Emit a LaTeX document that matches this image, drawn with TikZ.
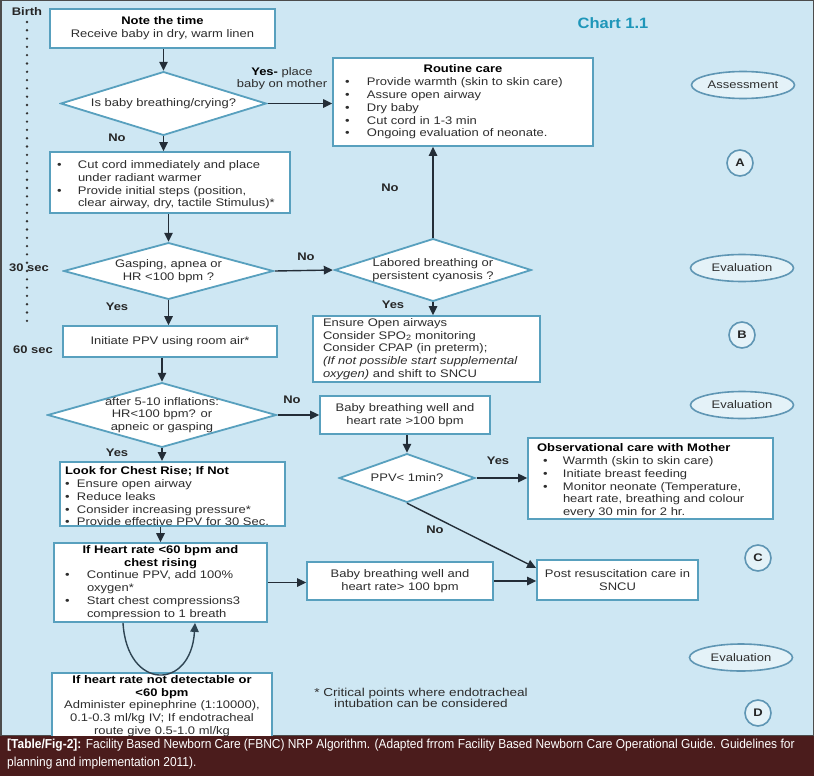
\documentclass[tikz,border=0pt]{standalone}
\usepackage{fontspec}
\setmainfont{Liberation Sans}[FakeStretch=1.18]
\newfontfamily\capfont{Liberation Sans}[FakeStretch=0.92]
\newfontfamily\chartfont{Liberation Sans}[FakeStretch=1.1]
\usetikzlibrary{shapes.geometric,arrows.meta,calc}
\definecolor{bg}{RGB}{206,231,243}
\definecolor{bord}{RGB}{88,160,190}
\definecolor{ellc}{RGB}{95,150,180}
\definecolor{arrc}{RGB}{35,45,55}
\definecolor{capbg}{RGB}{75,28,28}
\definecolor{charttxt}{RGB}{30,150,185}
\definecolor{txt}{RGB}{45,45,45}
\newcommand\bi[3]{\par\hangindent=#2\hangafter=1\noindent\makebox[#2][l]{\hspace{#1}\textbullet}#3}
\tikzset{
  box/.style={draw=bord, line width=1.8pt, fill=white, inner sep=0pt, text=txt},
  dia/.style={rectangle, draw=none, fill=bg, inner sep=0pt, align=center, text=txt,
    path picture={\draw[bord, line width=1.8pt, fill=white]
      ([yshift=-1pt]path picture bounding box.north) -- ([xshift=-2pt]path picture bounding box.east) --
      ([yshift=1pt]path picture bounding box.south) -- ([xshift=2pt]path picture bounding box.west) -- cycle;}},
  arr/.style={draw=arrc, line width=1.4pt, -{Triangle[length=9pt,width=8.5pt]}},
  lbl/.style={font=\fontsize{11}{12.8}\selectfont\bfseries, text=black!85, inner sep=0pt},
  ell/.style={ellipse, draw=ellc, line width=1.6pt, fill=white!45!bg, inner sep=0pt, minimum width=103pt, minimum height=27pt, text=txt},
  circ/.style={circle, draw=ellc, line width=1.6pt, fill=white!45!bg, inner sep=0pt, minimum size=26pt, font=\fontsize{11}{12}\selectfont\bfseries, text=black!85},
  side/.style={font=\fontsize{11}{12}\selectfont\bfseries, text=black!85, inner sep=0pt}
}
\begin{document}
\begin{tikzpicture}[x=1pt,y=-1pt, font=\fontsize{11}{12.8}\selectfont]
\useasboundingbox (0,0) rectangle (814,776);
\fill[bg] (0,0) rectangle (814,736);
\draw[black!70, line width=1.5pt] (0.75,0.75) rectangle (813.25,736);

% time axis
\draw[black!80, line width=2.6pt, line cap=round, dash pattern=on 0pt off 8.3pt] (27,22) -- (27,328);
\node[side] (birth) at (27,12) {Birth};
\node[side] (t30) at (29,268) {30 sec};
\node[side] (t60) at (33,350) {60 sec};

\node[font=\chartfont\fontsize{15}{17}\selectfont\bfseries, text=charttxt] (chart) at (613,23) {Chart 1.1};

% boxes
\node[box, text width=225pt, minimum height=39pt, align=center] (b1) at (162.5,28.5)
  {\textbf{\color{black}Note the time}\\Receive baby in dry, warm linen};
\node[dia, minimum width=209pt, minimum height=65pt] (d1) at (163.5,103.5) {Is baby breathing/crying?};
\node[box, text width=260pt, minimum height=88pt, align=left] (rc) at (463,102)
  {{\centering\textbf{\color{black}Routine care}\par}
   \bi{12pt}{34pt}{Provide warmth (skin to skin care)}
   \bi{12pt}{34pt}{Assure open airway}
   \bi{12pt}{34pt}{Dry baby}
   \bi{12pt}{34pt}{Cut cord in 1-3 min}
   \bi{12pt}{34pt}{Ongoing evaluation of neonate.}\par};
\node[box, text width=240pt, minimum height=61pt, align=left] (b2) at (170,182.5)
  {\bi{7pt}{28pt}{Cut cord immediately and place\newline under radiant warmer}
   \bi{7pt}{28pt}{Provide initial steps (position,\newline clear airway, dry, tactile Stimulus)*}\par};
\node[dia, minimum width=213pt, minimum height=58pt] (d2) at (168.5,271) {Gasping, apnea or\\HR <100 bpm ?};
\node[dia, minimum width=200pt, minimum height=64pt] (d3) at (433,270) {Labored breathing or\\persistent cyanosis ?};
\node[box, text width=227pt, minimum height=66pt, align=left] (b3) at (426.5,349)
  {\leftskip=10pt Ensure Open airways\\Consider SPO\textsubscript{2} monitoring\\Consider CPAP (in preterm);\\\textit{(If not possible start supplemental}\\\textit{oxygen)} and shift to SNCU\par};
\node[box, text width=214pt, minimum height=31pt, align=center] (ppv) at (170,341.5) {Initiate PPV using room air*};
\node[dia, minimum width=232pt, minimum height=66pt] (d4) at (162,415) {after 5-10 inflations:\\HR<100 bpm? or\\apneic or gasping};
\node[box, text width=170pt, minimum height=38pt, align=center] (b4) at (405,415) {Baby breathing well and\\heart rate >100 bpm};
\node[box, text width=225pt, minimum height=62pt, align=left] (b5) at (172.5,494)
  {\par\noindent\hspace{5pt}\textbf{\color{black}Look for Chest Rise; If Not}
   \bi{5pt}{17pt}{Ensure open airway}
   \bi{5pt}{17pt}{Reduce leaks}
   \bi{5pt}{17pt}{Consider increasing pressure*}
   \bi{5pt}{17pt}{Provide effective PPV for 30 Sec.}\par};
\node[box, text width=213pt, minimum height=79pt, align=left] (b6) at (160.5,582.5)
  {{\centering\textbf{\color{black}If Heart rate <60 bpm and\\chest rising}\par}
   \bi{11pt}{33pt}{Continue PPV, add 100\%\newline oxygen*}
   \bi{11pt}{33pt}{Start chest compressions3\newline compression to 1 breath}\par};
\node[box, text width=186pt, minimum height=38pt, align=center] (b7) at (400,581) {Baby breathing well and\\heart rate> 100 bpm};
\node[box, text width=161pt, minimum height=40pt, align=center] (post) at (617.5,580) {Post resuscitation care in\\SNCU};
\node[dia, minimum width=139pt, minimum height=50pt] (d5) at (407,478) {PPV< 1min?};
\node[box, text width=245pt, minimum height=81pt, align=left] (obs) at (650.5,478.5)
  {\par\noindent\hspace{9pt}\textbf{\color{black}Observational care with Mother}
   \bi{15pt}{35pt}{Warmth (skin to skin care)}
   \bi{15pt}{35pt}{Initiate breast feeding}
   \bi{15pt}{35pt}{Monitor neonate (Temperature,\newline heart rate, breathing and colour\newline every 30 min for 2 hr.}\par};
\node[box, text width=220pt, minimum height=66pt, align=center] (b8) at (162,706)
  {\textbf{\color{black}If heart rate not detectable or\\<60 bpm}\\Administer epinephrine (1:10000),\\0.1-0.3 ml/kg IV; If endotracheal\\route give 0.5-1.0 ml/kg};

\node[text=txt, align=center, inner sep=0pt, font=\fontsize{11.5}{11}\selectfont] (note) at (421,697.5) {* Critical points where endotracheal\\intubation can be considered};

% right column
\node[ell] (e1) at (743,85) {Assessment};
\node[circ] (ca) at (740,163) {A};
\node[ell] (e2) at (742,268) {Evaluation};
\node[circ] (cb) at (742,335) {B};
\node[ell] (e3) at (742,405) {Evaluation};
\node[circ] (cc) at (758,558) {C};
\node[ell] (e4) at (741,657.5) {Evaluation};
\node[circ] (cd) at (758,713) {D};

% connectors
\draw[arr] (b1.south -| d1.north) -- (d1.north);
\draw[arr] (d1.east) -- (rc.west |- d1.east);
\draw[arr] (d1.south) -- (d1.south |- b2.north);
\draw[arr] (b2.south -| d2.north) -- (d2.north);
\draw[arr] (d2.east) -- (d3.west);
\draw[arr] (d3.north) -- (d3.north |- rc.south);
\draw[arr] (d3.south) -- (d3.south |- b3.north);
\draw[arr] (d2.south) -- (d2.south |- ppv.north);
\draw[arr] (ppv.south -| d4.north) -- (d4.north);
\draw[arr] (d4.east) -- (b4.west |- d4.east);
\draw[arr] (d4.south) -- (d4.south |- b5.north);
\draw[arr] (b5.south -| b6.north) -- (b6.north);
\draw[arr] (b6.east) -- (b7.west |- b6.east);
\draw[arr] (b7.east) -- (post.west |- b7.east);
\draw[arr] (b4.south -| d5.north) -- (d5.north);
\draw[arr] (d5.east) -- (obs.west |- d5.east);
\draw[arr] (d5.south) -- ([yshift=12pt]post.west);
\draw[arr, draw=arrc!80!bord] ([xshift=-37.5pt]b6.south) .. controls +(4,68) and +(-4,68) .. ([xshift=34.5pt]b6.south);

% labels
\node[lbl, align=center, font=\fontsize{11}{12}\selectfont, text=txt] (lyes1) at (282,79) {\textbf{\color{black}Yes-} place\\baby on mother};
\node[lbl] (lno1) at (117,138) {No};
\node[lbl] (lno2) at (390,188) {No};
\node[lbl] (lno3) at (306,257) {No};
\node[lbl] (lyes2) at (117,307) {Yes};
\node[lbl] (lyes3) at (393,305) {Yes};
\node[lbl] (lno4) at (292,400) {No};
\node[lbl] (lyes4) at (117,453) {Yes};
\node[lbl] (lyes5) at (498,461) {Yes};
\node[lbl] (lno5) at (435,530) {No};

% caption
\fill[capbg] (0,736) rectangle (814,776);
\node[anchor=north west, align=left, text=white, inner sep=0pt, font=\capfont\fontsize{13}{18}\selectfont] (cap) at (7,738.5)
  {\textbf{[Table/Fig-2]:} Facility Based Newborn Care (FBNC) NRP Algorithm. (Adapted frrom Facility Based Newborn Care Operational Guide. Guidelines for\\planning and implementation 2011).};
\end{tikzpicture}
\end{document}
